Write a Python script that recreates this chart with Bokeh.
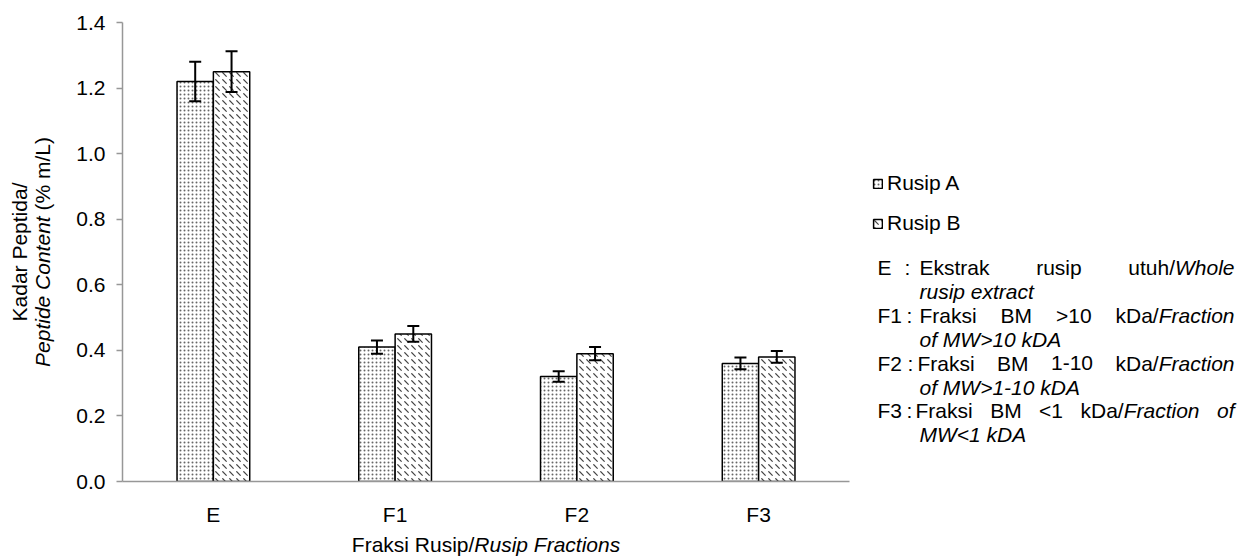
import math
from bokeh.plotting import figure
from bokeh.layouts import row, column
from bokeh.models import (ColumnDataSource, Range1d, FixedTicker, Whisker, TeeHead,
                          Legend, LegendItem, PrintfTickFormatter)
from bokeh.core.properties import value
from bokeh.transform import dodge
from bokeh.embed import file_html
from bokeh.resources import INLINE

# ---------------- data ----------------
categories = ["E", "F1", "F2", "F3"]
rusip_a = [1.22, 0.41, 0.32, 0.36]
rusip_a_err = [0.06, 0.02, 0.016, 0.018]
rusip_b = [1.25, 0.45, 0.39, 0.38]
rusip_b_err = [0.062, 0.024, 0.02, 0.018]
series_names = ["Rusip A", "Rusip B"]
y_ticks = [0.0, 0.2, 0.4, 0.6, 0.8, 1.0, 1.2, 1.4]
y_title_line1 = "Kadar Peptida/"
y_title_line2 = [("Peptide Content", True), (" (% m/L)", False)]
x_title = [("Fraksi Rusip/", False), ("Rusip Fractions", True)]
note_codes = ["E", "F1", "F2", "F3"]
note_first_normal = ["Ekstrak rusip utuh/", "Fraksi BM >10 kDa/", "Fraksi BM 1-10 kDa/", "Fraksi BM <1 kDa/"]
note_first_italic = ["Whole", "Fraction", "Fraction", "Fraction of"]
note_second_italic = ["rusip extract", "of MW>10 kDA", "of MW>1-10 kDA", "MW<1 kDA"]

FONT = "Liberation Sans"
FS = 21
FSS = f"{FS}px"

# Arial / Liberation Sans advance widths (per 1000 em)
W = {' ': 278, '(': 333, ')': 333, '%': 889, '/': 278, '.': 278, '-': 333, '>': 584, '<': 584,
     'A': 667, 'B': 667, 'C': 722, 'D': 722, 'E': 667, 'F': 611, 'K': 667, 'L': 556, 'M': 833,
     'P': 667, 'R': 722, 'W': 944, 'a': 556, 'b': 556, 'c': 500, 'd': 556, 'e': 556, 'f': 278,
     'h': 556, 'i': 222, 'k': 500, 'l': 222, 'm': 833, 'n': 556, 'o': 556, 'p': 556, 'r': 333,
     's': 500, 't': 278, 'u': 556, 'x': 500}


def tw(s, fs=FS):
    return sum(W.get(c, 556) for c in s) * fs / 1000.0


# ---------------- page layout (page pixels) ----------------
PAGE_W, PAGE_H = 1237, 556
LEFT_W = 66                 # y-title strip
MAIN_W = 789                # main plot (x 66 .. 855)
RIGHT_W = PAGE_W - LEFT_W - MAIN_W
MAIN_H = 529
BOTTOM_H = PAGE_H - MAIN_H
FRAME_L, FRAME_R, FRAME_T, FRAME_B = 122, 849, 22, 481


def helper_fig(w, h, xr, yr, bl=0, br=0):
    f = figure(width=w, height=h, output_backend="svg", toolbar_location=None,
               x_range=Range1d(*xr), y_range=Range1d(*yr),
               x_axis_location=None, y_axis_location=None,
               min_border=0, min_border_left=bl, min_border_right=br,
               min_border_top=0, min_border_bottom=0)
    f.grid.visible = False
    f.outline_line_color = None
    f.background_fill_color = "white"
    f.border_fill_color = "white"
    return f


def put(f, x, y, s, italic=False, align="left", angle=0.0):
    # SVG drops leading blanks: shift the anchor instead
    lead = len(s) - len(s.lstrip(" "))
    if lead and align == "left":
        d = tw(" " * lead)
        x += d * math.cos(angle)
        y -= d * math.sin(angle)   # page y grows downwards
    f.text(x=[x], y=[y], text=[s.strip(" ")], text_font=value(FONT), text_font_size=value(FSS),
           text_font_style=value("italic" if italic else "normal"),
           text_align=value(align), text_baseline=value("middle"),
           angle=angle, text_color="black")


# ---------------- main figure ----------------
p = figure(width=MAIN_W, height=MAIN_H, output_backend="svg", toolbar_location=None,
           x_range=Range1d(-0.5, 3.5), y_range=Range1d(0, 1.4),
           min_border_left=FRAME_L - LEFT_W, min_border_right=LEFT_W + MAIN_W - FRAME_R,
           min_border_top=FRAME_T, min_border_bottom=MAIN_H - FRAME_B)
p.outline_line_color = None
p.xgrid.visible = False
p.ygrid.visible = False

src_a = ColumnDataSource(dict(x=list(range(len(categories))), top=rusip_a,
                              upper=[v + e for v, e in zip(rusip_a, rusip_a_err)],
                              lower=[v - e for v, e in zip(rusip_a, rusip_a_err)]))
src_b = ColumnDataSource(dict(x=list(range(len(categories))), top=rusip_b,
                              upper=[v + e for v, e in zip(rusip_b, rusip_b_err)],
                              lower=[v - e for v, e in zip(rusip_b, rusip_b_err)]))

STYLE_A = dict(fill_color="white", line_color="black", line_width=1.5,
               hatch_pattern="dot", hatch_color="#666666", hatch_scale=4, hatch_weight=1)
STYLE_B = dict(fill_color="white", line_color="black", line_width=1.5,
               hatch_pattern="left_diagonal_dash", hatch_color="#444444", hatch_scale=7,
               hatch_weight=1.2)

p.vbar(x=dodge('x', -0.1, range=p.x_range), top='top', width=0.2, source=src_a, **STYLE_A)
p.vbar(x=dodge('x', 0.1, range=p.x_range), top='top', width=0.2, source=src_b, **STYLE_B)

for src, off in ((src_a, -0.1), (src_b, 0.1)):
    p.add_layout(Whisker(source=src, base=dodge('x', off, range=p.x_range), upper='upper',
                         lower='lower', line_color="black", line_width=2, level="overlay",
                         upper_head=TeeHead(size=12, line_width=2, line_color="black"),
                         lower_head=TeeHead(size=12, line_width=2, line_color="black")))

AX = "#979797"
p.yaxis.ticker = FixedTicker(ticks=y_ticks)
p.yaxis.formatter = PrintfTickFormatter(format="%.1f")
p.yaxis.axis_line_color = AX
p.yaxis.axis_line_width = 1.5
p.yaxis.major_tick_line_color = AX
p.yaxis.major_tick_line_width = 1.5
p.yaxis.major_tick_out = 6
p.yaxis.major_tick_in = 0
p.yaxis.minor_tick_line_color = None
p.yaxis.major_label_standoff = 11

p.xaxis.ticker = FixedTicker(ticks=list(range(len(categories))))
p.xaxis.major_label_overrides = {i: c for i, c in enumerate(categories)}
p.xaxis.axis_line_color = AX
p.xaxis.axis_line_width = 1.5
p.xaxis.major_tick_line_color = None
p.xaxis.minor_tick_line_color = None
p.xaxis.major_tick_out = 0
p.xaxis.major_tick_in = 0
p.xaxis.major_label_standoff = 21

for ax in (p.xaxis, p.yaxis):
    ax.major_label_text_font = FONT
    ax.major_label_text_font_size = FSS
    ax.major_label_text_color = "black"

# ---------------- left strip: y title ----------------
lf = helper_fig(LEFT_W, PAGE_H, (0, LEFT_W), (PAGE_H, 0))
YC = (FRAME_T + FRAME_B) / 2
put(lf, 19, YC, y_title_line1, align="center", angle=math.pi / 2)
tot = sum(tw(s) for s, _ in y_title_line2)
ypos = YC + tot / 2
for s, it in y_title_line2:
    put(lf, 42, ypos, s, italic=it, align="left", angle=math.pi / 2)
    ypos -= tw(s)

# ---------------- bottom strip: x title (frame aligned with main plot) ----------------
bf = helper_fig(MAIN_W, BOTTOM_H, (FRAME_L, FRAME_R), (PAGE_H, MAIN_H),
                bl=FRAME_L - LEFT_W, br=LEFT_W + MAIN_W - FRAME_R)
tot = sum(tw(s) for s, _ in x_title)
xpos = (FRAME_L + FRAME_R) / 2 - tot / 2
for s, it in x_title:
    put(bf, xpos, 544, s, italic=it)
    xpos += tw(s)

# ---------------- right strip: legend + notes ----------------
X0R = LEFT_W + MAIN_W
rf = helper_fig(RIGHT_W, PAGE_H, (X0R, PAGE_W), (PAGE_H, 0))
# legend-only renderers: zero-size bars in a blank spot (draw nothing)
la = rf.vbar(x=[1150], bottom=[100], top=[100], width=0, **STYLE_A)
lb = rf.vbar(x=[1150], bottom=[100], top=[100], width=0, **STYLE_B)
legend = Legend(items=[LegendItem(label=series_names[0], renderers=[la]),
                       LegendItem(label=series_names[1], renderers=[lb])],
                location=(872 - X0R, PAGE_H - 235), orientation="vertical",
                glyph_width=11, glyph_height=11, label_height=24, spacing=16,
                padding=0, margin=0, label_standoff=4,
                border_line_alpha=0, background_fill_alpha=0,
                label_text_font=FONT, label_text_font_size=FSS, label_text_color="black")
rf.add_layout(legend)

code_x = 877
colon_x = [904, 906, 907, 906]
text_x = [919, 919, 917, 915]
right_x = 1234
line_y0 = 267
line_dy = 23.9
for k in range(len(note_codes)):
    y1 = line_y0 + 2 * k * line_dy
    y2 = y1 + line_dy
    put(rf, code_x, y1, note_codes[k])
    put(rf, colon_x[k], y1, ":")
    nwords = note_first_normal[k].split(" ")
    iwords = note_first_italic[k].split(" ")
    words = [[(w, False)] for w in nwords[:-1]]
    words.append([(nwords[-1], False), (iwords[0], True)])
    words += [[(w, True)] for w in iwords[1:]]
    widths = [sum(tw(s) for s, _ in w) for w in words]
    gap = (right_x - text_x[k] - sum(widths)) / (len(words) - 1)
    x = text_x[k]
    for w, wd in zip(words, widths):
        xx = x
        for s, it in w:
            put(rf, xx, y1, s, italic=it)
            xx += tw(s)
        x += wd + gap
    put(rf, 919, y2, note_second_italic[k], italic=True)

layout = row(lf, column(p, bf), rf)
open("out.html", "w").write(file_html(layout, INLINE))
